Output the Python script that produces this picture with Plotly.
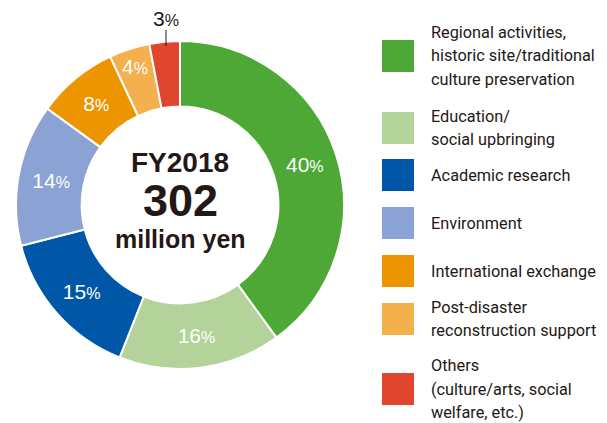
import plotly.graph_objects as go

# Breakdown of FY2018 grants by field (percent of total)
categories = [
    "Regional activities, historic site/traditional culture preservation",
    "Education/ social upbringing",
    "Academic research",
    "Environment",
    "International exchange",
    "Post-disaster reconstruction support",
    "Others (culture/arts, social welfare, etc.)",
]
shares = [40, 16, 15, 14, 8, 4, 3]
legend_lines = [
    ["Regional activities,", "historic site/traditional", "culture preservation"],
    ["Education/", "social upbringing"],
    ["Academic research"],
    ["Environment"],
    ["International exchange"],
    ["Post-disaster", "reconstruction support"],
    ["Others", "(culture/arts, social", "welfare, etc.)"],
]
colors = ["#4ea836", "#b3d39a", "#0056a7", "#8ba2d4", "#ec9500", "#f3b04c", "#e0462e"]
center_title = "FY2018"
center_total = "302"
center_unit = "million yen"

W, H = 607, 423
INK = "#231815"
LEGEND_FONT = "Roboto, Liberation Sans, Arial, sans-serif"
SANS = "Liberation Sans, Arial, Helvetica, sans-serif"


def px(x):
    return x / W


def py(y):
    return 1 - y / H


# Inside labels for all slices except the smallest, which is labelled outside
pct_text = [f"{v}<span style='font-size:16px'>%</span>" for v in shares[:-1]] + [""]

cx, cy, r = 180, 205, 164
fig = go.Figure(
    go.Pie(
        labels=categories,
        values=shares,
        text=pct_text,
        textinfo="text",
        textposition="inside",
        insidetextorientation="horizontal",
        textfont=dict(family=SANS, size=21, color="white"),
        hole=0.6,
        sort=False,
        direction="clockwise",
        rotation=0,
        marker=dict(colors=colors, line=dict(color="white", width=2)),
        domain=dict(x=[px(cx - r), px(cx + r)], y=[py(cy + r), py(cy - r)]),
        showlegend=False,
        hoverinfo="label+value",
    )
)

annotations = []
shapes = []

# Outside label for the smallest slice with a short leader line
annotations.append(dict(
    x=px(166), y=py(19), xref="paper", yref="paper",
    text=f"{shares[-1]}<span style='font-size:16px'>%</span>",
    showarrow=False, xanchor="center", yanchor="middle",
    font=dict(family=SANS, size=21, color=INK),
))
shapes.append(dict(type="line", xref="paper", yref="paper",
                   x0=px(166), x1=px(166), y0=py(30), y1=py(46),
                   line=dict(color=INK, width=1)))

# Text in the hole of the donut
for txt, y, size in [(center_title, 162, 28), (center_total, 200, 45), (center_unit, 239, 25)]:
    annotations.append(dict(
        x=px(cx), y=py(y), xref="paper", yref="paper", text=f"<b>{txt}</b>",
        showarrow=False, xanchor="center", yanchor="middle",
        font=dict(family=SANS, size=size, color=INK),
    ))

# Hand-laid legend: colour swatches with wrapped category names
swatch_centers = [56, 128, 175, 223, 271, 319, 389]
pitch = 23.5
for lines, col, yc in zip(legend_lines, colors, swatch_centers):
    shapes.append(dict(type="rect", xref="paper", yref="paper",
                       x0=px(382), x1=px(414), y0=py(yc + 16), y1=py(yc - 16),
                       fillcolor=col, line=dict(width=0)))
    n = len(lines)
    for i, line in enumerate(lines):
        ly = yc + (i - (n - 1) / 2) * pitch
        annotations.append(dict(
            x=px(429), y=py(ly), xref="paper", yref="paper", text=line,
            showarrow=False, xanchor="left", yanchor="middle",
            font=dict(family=LEGEND_FONT, size=16.3, color=INK),
        ))

fig.update_layout(
    width=W, height=H,
    margin=dict(l=0, r=0, t=0, b=0),
    paper_bgcolor="white", plot_bgcolor="white",
    annotations=annotations, shapes=shapes,
)

fig.write_html("out.html")
